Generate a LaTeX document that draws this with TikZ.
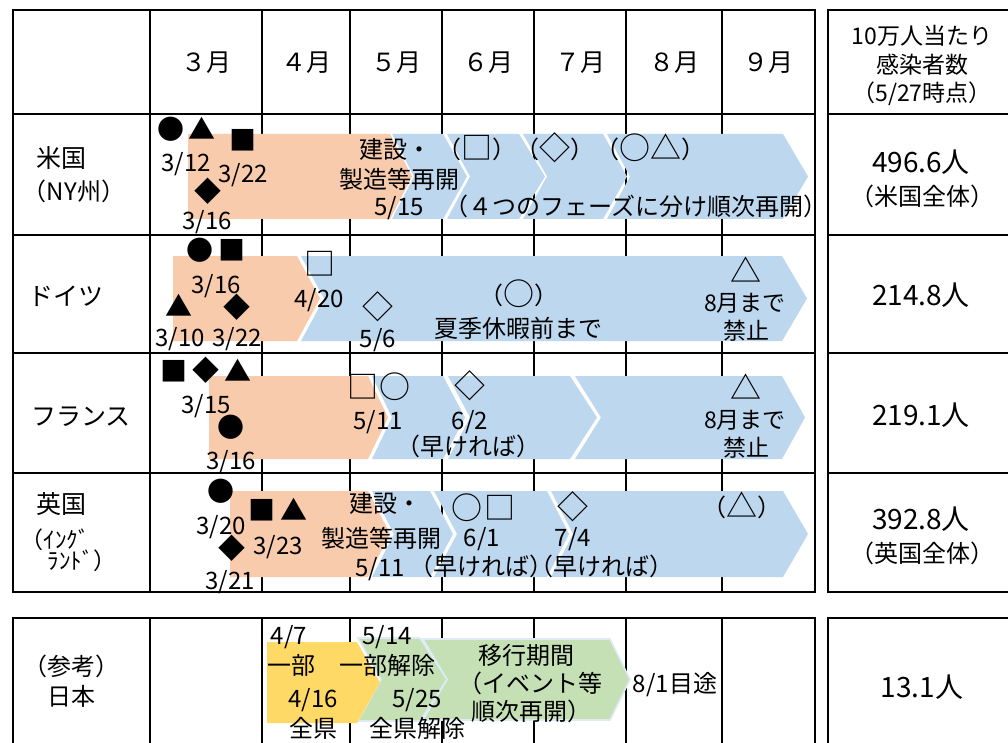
\documentclass[tikz,border=0pt]{standalone}
\usepackage{fontspec}
\setmainfont{Noto Sans CJK JP}
\definecolor{orng}{HTML}{F8CBAD}
\definecolor{blu}{HTML}{BDD7EE}
\definecolor{ylw}{HTML}{FFD966}
\definecolor{grn}{HTML}{C5E0B4}
\definecolor{edgeg}{HTML}{DEEBF7}
% color, x1, notch, x2, tip, top, bot, mid
\newcommand{\chev}[8]{\fill[#1] (#2,#6) -- (#4,#6) -- (#5,#8) -- (#4,#7) -- (#2,#7) -- (#3,#8) -- cycle;}
\newcommand{\chevg}[8]{\filldraw[fill=#1,draw=edgeg,line width=1.6pt,line join=miter] (#2,#6) -- (#4,#6) -- (#5,#8) -- (#4,#7) -- (#2,#7) -- (#3,#8) -- cycle;}
\newcommand{\sy}[1]{{\fontsize{31}{34}\selectfont\raisebox{-1.2pt}{#1}}}
\tikzset{
  tx/.style={font=\fontsize{24}{28}\selectfont, inner sep=0pt, text height=20pt, text depth=2.5pt, anchor=center},
  txs/.style={font=\fontsize{23}{27}\selectfont, inner sep=0pt, text height=19pt, text depth=2.4pt, anchor=center},
  hd/.style={font=\fontsize{25}{30}\selectfont, inner sep=0pt, text height=21pt, text depth=2.6pt, anchor=center},
  num/.style={font=\fontsize{28}{32}\selectfont, inner sep=0pt, text height=23.5pt, text depth=3pt, anchor=center},
  sym/.style={font=\fontsize{27}{32}\selectfont, inner sep=0pt, text height=22.5pt, text depth=2.8pt, anchor=center},
  osym/.style={font=\fontsize{31}{36}\selectfont, inner sep=0pt, text height=25.8pt, text depth=3.2pt, anchor=center},
  gridline/.style={line width=2.4pt, line cap=rect}
}
\begin{document}
\begin{tikzpicture}[x=1pt,y=-1pt]
\useasboundingbox (0,0) rectangle (1008,743);
\fill[white] (0,0) rectangle (1008,743);
% ---------- grids ----------
\foreach \x in {13,150,262,350,442,534,626,722,815} \draw[gridline] (\x,10) -- (\x,592);
\foreach \y in {10,114,235,353,473,592} \draw[gridline] (13,\y) -- (815,\y);
\draw[gridline] (828,10) -- (828,592);
\foreach \y in {10,114,235,353,473,592} \draw[gridline] (828,\y) -- (1012,\y);
\foreach \x in {13,150,262,350,442,534,626,722,815} \draw[gridline] (\x,618) -- (\x,748);
\draw[gridline] (13,618) -- (815,618);
\draw[gridline] (828,618) -- (1012,618);
\draw[gridline] (828,618) -- (828,748);
% ---------- bars ----------
% US
\chev{orng}{188}{188}{390}{412}{134}{219}{176.5}
\chev{blu}{392}{414}{443}{467}{134}{219}{176.5}
\chev{blu}{447}{470}{519}{545}{134}{219}{176.5}
\chev{blu}{523}{547}{603}{627}{134}{219}{176.5}
\chev{blu}{607}{630}{783}{808}{134}{219}{176.5}
% Germany
\chev{orng}{173}{173}{297}{320}{256}{341}{298.5}
\chev{blu}{301}{324}{782}{807}{256}{341}{298.5}
% France
\chev{orng}{209}{209}{368}{388}{376}{459}{417.5}
\chev{blu}{372}{392}{443}{465}{376}{459}{417.5}
\chev{blu}{448}{470}{570}{597}{376}{459}{417.5}
\chev{blu}{575}{601}{782}{805}{376}{459}{417.5}
% UK
\chev{orng}{230}{230}{368}{390}{491}{577}{534}
\chev{blu}{372}{394}{430}{453}{491}{577}{534}
\chev{blu}{434}{457}{547}{569}{491}{577}{534}
\chev{blu}{551}{573}{783}{808}{491}{577}{534}
% Japan
\chevg{grn}{423}{447}{610}{630}{639}{720}{679.5}
\chevg{grn}{358}{381}{420}{447}{638}{721}{679.5}
\chev{ylw}{267}{267}{357}{380}{642}{723}{682.5}
% ---------- header ----------
\node[hd] (m3) at (206,62) {３月};
\node[hd] (m4) at (306,62) {４月};
\node[hd] (m5) at (396,62) {５月};
\node[hd] (m6) at (488,62) {６月};
\node[hd] (m7) at (580,62) {７月};
\node[hd] (m8) at (674,62) {８月};
\node[hd] (m9) at (768,62) {９月};
\node[txs] (h1) at (922,36) {10万人当たり};
\node[txs] (h2) at (922,65) {感染者数};
\node[txs] (h3) at (922,93) {（5/27時点）};
% ---------- row labels ----------
\node[hd] (lus1) at (61,158) {米国};
\node[tx] (lus2) at (74,192) {（NY州）};
\node[hd] (lde) at (66,296) {ドイツ};
\node[hd] (lfr) at (81,416) {フランス};
\node[hd] (luk1) at (61,504) {英国};
\node[txs] (luk2) at (55,540) {（ｲﾝｸﾞ};
\node[txs] (luk3) at (82,561) {ﾗﾝﾄﾞ）};
\node[tx] (ljp1) at (71,667) {（参考）};
\node[tx] (ljp2) at (71,697) {日本};
% ---------- right values ----------
\node[num] (v1) at (921,162) {496.6人};
\node[tx] (v1b) at (922,197) {（米国全体）};
\node[num] (v2) at (921,295) {214.8人};
\node[num] (v3) at (921,415) {219.1人};
\node[num] (v4) at (921,519) {392.8人};
\node[tx] (v4b) at (922,554) {（英国全体）};
\node[num] (v5) at (922,687) {13.1人};
% ---------- US row ----------
\node[sym] (us1) at (171,130) {●};
\node[sym] (us2) at (202,130) {▲};
\node[sym] (us3) at (243,141) {■};
\node[tx] (us4) at (186,163) {3/12};
\node[tx] (us5) at (243,174) {3/22};
\node[sym] (us6) at (208,192) {◆};
\node[tx] (us7) at (207,221) {3/16};
\node[tx] (us8) at (395,150) {建設・};
\node[tx] (us9) at (399,180) {製造等再開};
\node[tx] (us10) at (399,207) {5/15};
\node[tx] (us11) at (477,150) {（\sy{□}）};
\node[tx] (us12) at (555,150) {（\sy{◇}）};
\node[tx] (us13) at (650,150) {（\sy{○△}）};
\node[tx] (us14) at (636,207) {（４つのフェーズに分け順次再開）};
% ---------- Germany row ----------
\node[sym] (de1) at (200,251) {●};
\node[sym] (de2) at (232,251) {■};
\node[tx] (de3) at (216,285) {3/16};
\node[sym] (de4) at (179,307) {▲};
\node[sym] (de5) at (237,308) {◆};
\node[tx] (de6) at (180,338) {3/10};
\node[tx] (de7) at (237,338) {3/22};
\node[osym] (de8) at (320,264) {□};
\node[tx] (de9) at (319,299) {4/20};
\node[osym] (de10) at (378,307) {◇};
\node[tx] (de11) at (378,339) {5/6};
\node[tx] (de12) at (519,296) {（\sy{○}）};
\node[tx] (de13) at (518,329) {夏季休暇前まで};
\node[osym] (de14) at (746,271) {△};
\node[txs] (de15) at (745,303) {8月まで};
\node[txs] (de16) at (746,331) {禁止};
% ---------- France row ----------
\node[sym] (fr1) at (174,372) {■};
\node[sym] (fr2) at (206,371) {◆};
\node[sym] (fr3) at (238,372) {▲};
\node[tx] (fr4) at (206,405) {3/15};
\node[sym] (fr5) at (231,428) {●};
\node[tx] (fr6) at (231,461) {3/16};
\node[osym] (fr7) at (363,387) {□};
\node[osym] (fr8) at (395,387) {○};
\node[tx] (fr9) at (378,421) {5/11};
\node[osym] (fr10) at (470,386) {◇};
\node[tx] (fr11) at (470,421) {6/2};
\node[tx] (fr12) at (468,447) {（早ければ）};
\node[osym] (fr13) at (746,388) {△};
\node[txs] (fr14) at (745,420) {8月まで};
\node[txs] (fr15) at (746,448) {禁止};
% ---------- UK row ----------
\node[sym] (uk1) at (221,492) {●};
\node[tx] (uk2) at (221,526) {3/20};
\node[sym] (uk3) at (262,511) {■};
\node[sym] (uk4) at (294,511) {▲};
\node[tx] (uk5) at (278,546) {3/23};
\node[sym] (uk6) at (232,549) {◆};
\node[tx] (uk7) at (230,581) {3/21};
\node[tx] (uk8) at (385,504) {建設・};
\node[tx] (uk9) at (381,539) {製造等再開};
\node[tx] (uk10) at (380,568) {5/11};
\node[osym] (uk11) at (467,508) {○};
\node[osym] (uk12) at (500,508) {□};
\node[tx] (uk13) at (482,538) {6/1};
\node[tx] (uk14) at (541,567) {（早ければ）\kern-24pt（早ければ）};
\node[osym] (uk15) at (573,507) {◇};
\node[tx] (uk16) at (573,538) {7/4};
\node[tx] (uk18) at (742,508) {（\sy{△}）};
% ---------- Japan row ----------
\node[tx] (jp1) at (289,636) {4/7};
\node[tx] (jp2) at (291,666) {一部};
\node[tx] (jp3) at (313,699) {4/16};
\node[tx] (jp4) at (313,729) {全県};
\node[tx] (jp5) at (387,636) {5/14};
\node[tx] (jp6) at (387,666) {一部解除};
\node[tx] (jp7) at (417,699) {5/25};
\node[tx] (jp8) at (417,729) {全県解除};
\node[tx] (jp9) at (526,656) {移行期間};
\node[tx] (jp10) at (530,684) {（イベント等};
\node[tx] (jp11) at (531,712) {順次再開）};
\node[tx] (jp12) at (675,684) {8/1目途};
\end{tikzpicture}
\end{document}
